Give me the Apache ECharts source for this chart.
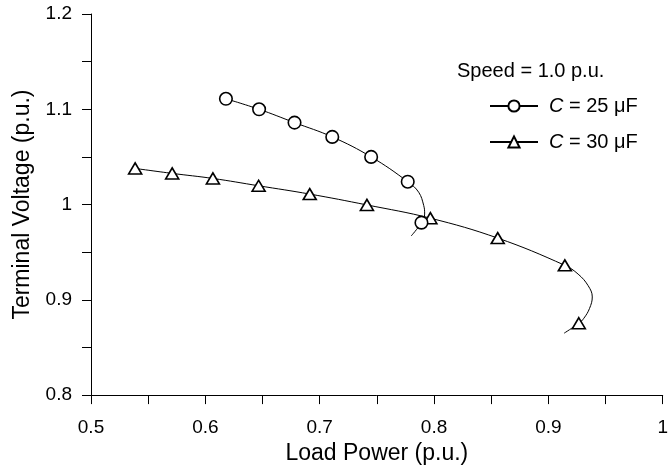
<!DOCTYPE html>
<html>
<head>
<meta charset="utf-8">
<script src="https://cdn.jsdelivr.net/npm/echarts@6/dist/echarts.min.js"></script>
<style>html,body{margin:0;padding:0;background:#fff;}#c{width:671px;height:470px;}</style>
</head>
<body>
<div id="c"></div>
<script>
// C = 25 uF curve; marked = drawn with a marker
const c25X = [0.618, 0.647, 0.678, 0.711, 0.745, 0.777, 0.7866, 0.791, 0.7918, 0.789, 0.780];
const c25Y = [1.111, 1.100, 1.086, 1.071, 1.050, 1.024, 1.0129, 0.9989, 0.990, 0.981, 0.967];
const c25Marked = [true, true, true, true, true, true, false, false, false, true, false];

// C = 30 uF curve
const c30X = [0.5386, 0.571, 0.6066, 0.6466, 0.6913, 0.7413, 0.7968, 0.8557, 0.9144, 0.926, 0.9347, 0.9384, 0.936, 0.931, 0.9266, 0.9138];
const c30Y = [1.0379, 1.0327, 1.0274, 1.0197, 1.011, 0.9996, 0.9857, 0.9648, 0.9362, 0.927, 0.915, 0.903, 0.891, 0.8806, 0.8754, 0.865];
const c30Marked = [true, true, true, true, true, true, true, true, true, false, false, false, false, false, true, false];

const seriesNames = ['C = 25 \u03bcF', 'C = 30 \u03bcF'];
const speedLabel = 'Speed = 1.0 p.u.';
const xTitle = 'Load Power (p.u.)';
const yTitle = 'Terminal Voltage (p.u.)';

function build(xs, ys, marked) {
  return xs.map((x, i) => marked[i] ? { value: [x, ys[i]] } : { value: [x, ys[i]], symbol: 'none' });
}

const FONT = 'Liberation Sans, Arial, sans-serif';
const chart = echarts.init(document.getElementById('c'), null, { renderer: 'canvas' });
const tenth = v => Math.abs(v * 10 - Math.round(v * 10)) < 1e-6 ? String(+v.toFixed(1)) : '';

chart.setOption({
  animation: false,
  backgroundColor: '#fff',
  grid: { left: 91, right: 6, top: 14, bottom: 73 },
  xAxis: {
    type: 'value', min: 0.5, max: 1.0, interval: 0.05,
    name: xTitle, nameLocation: 'middle', nameGap: 44,
    nameTextStyle: { fontFamily: FONT, fontSize: 23, color: '#000' },
    axisLine: { show: true, onZero: false, lineStyle: { color: '#000', width: 1 } },
    axisTick: { show: true, length: 9, lineStyle: { color: '#000' } },
    axisLabel: { formatter: tenth, fontFamily: FONT, fontSize: 19, color: '#000', margin: 23 },
    splitLine: { show: false }
  },
  yAxis: {
    type: 'value', min: 0.8, max: 1.2, interval: 0.05,
    name: yTitle, nameLocation: 'middle', nameGap: 57, nameRotate: 90,
    nameTextStyle: { fontFamily: FONT, fontSize: 23, color: '#000' },
    axisLine: { show: true, onZero: false, lineStyle: { color: '#000', width: 1 } },
    axisTick: { show: true, length: 9, lineStyle: { color: '#000' } },
    axisLabel: { formatter: tenth, fontFamily: FONT, fontSize: 19, color: '#000', margin: 19 },
    splitLine: { show: false }
  },
  legend: {
    orient: 'vertical', left: 484, top: 91, itemGap: 16, itemWidth: 48, itemHeight: 14,
    data: seriesNames,
    formatter: n => '{i|C}' + n.slice(1),
    textStyle: { fontFamily: FONT, fontSize: 20, color: '#000', padding: [0, 0, 0, 6],
      rich: { i: { fontStyle: 'italic', fontFamily: FONT, fontSize: 20, color: '#000' } } }
  },
  graphic: [{
    type: 'text', left: 457, top: 61,
    style: { text: speedLabel, font: '20px ' + FONT, fill: '#000' }
  }],
  series: [
    {
      name: seriesNames[0], type: 'line', smooth: 0.4,
      data: build(c25X, c25Y, c25Marked),
      symbol: 'circle', symbolSize: 12.5, showSymbol: true,
      lineStyle: { color: '#000', width: 1 },
      itemStyle: { color: '#fff', borderColor: '#000', borderWidth: 1.6 },
      z: 3
    },
    {
      name: seriesNames[1], type: 'line', smooth: 0.4,
      data: build(c30X, c30Y, c30Marked),
      symbol: 'triangle', symbolSize: [13, 11], showSymbol: true,
      lineStyle: { color: '#000', width: 1 },
      itemStyle: { color: '#fff', borderColor: '#000', borderWidth: 1.6 },
      z: 2
    }
  ]
});
</script>
</body>
</html>
